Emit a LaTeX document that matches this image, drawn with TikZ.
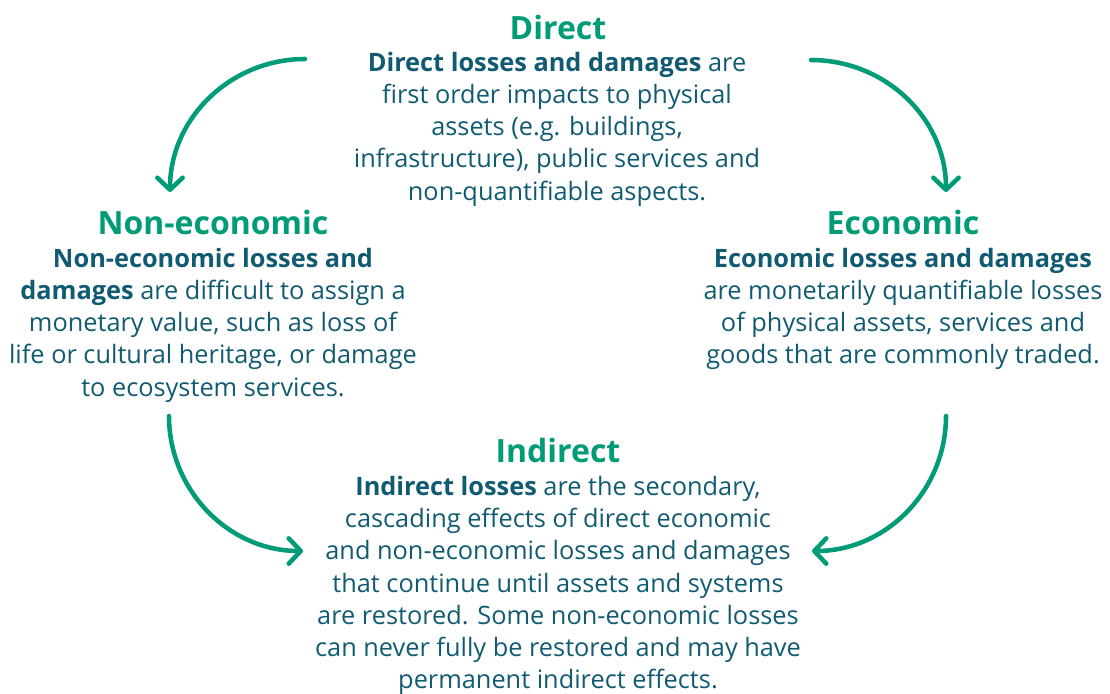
\documentclass[tikz,border=0pt]{standalone}
\usepackage{fontspec}
\setmainfont{Open Sans}
\usetikzlibrary{arrows.meta}
\definecolor{lossgreen}{HTML}{009B77}
\definecolor{lossteal}{HTML}{105B72}
\tikzset{
    heading/.style={text=lossgreen, font=\fontsize{24}{28}\selectfont\bfseries, inner sep=0pt},
    blurb/.style={text=lossteal, font=\fontsize{19}{24.2}\selectfont, align=center, inner sep=0pt},
    flow/.style={draw=lossgreen, line width=3.4pt, line cap=round,
        -{Straight Barb[length=9pt,width=19pt,round]}},
}

\begin{document}
\begin{tikzpicture}[x=0.75pt, y=-0.75pt]
	\useasboundingbox (0,0) rectangle (1110,693);
	% headings
	\node[heading] (dirT) at (558,27) {Direct};
	\node[heading] (nonT) at (213,222) {Non-economic};
	\node[heading] (ecoT) at (903,222) {Economic};
	\node[heading] (indT) at (558,450) {Indirect};
	% texts
	\node[blurb] (dirB) at (557,129) {\textbf{Direct losses and damages} are\\first order impacts to physical\\assets (e.g. buildings,\\infrastructure), public services and\\non-quantifiable aspects.};
	\node[blurb] (nonB) at (213,325) {\textbf{Non-economic losses and}\\\textbf{damages} are difficult to assign a\\monetary value, such as loss of\\life or cultural heritage, or damage\\to ecosystem services.};
	\node[blurb] (ecoB) at (903,309) {\textbf{Economic losses and damages}\\are monetarily quantifiable losses\\of physical assets, services and\\goods that are commonly traded.};
	\node[blurb] (indB) at (558,585.5) {\textbf{Indirect losses} are the secondary,\\cascading effects of direct economic\\and non-economic losses and damages\\that continue until assets and systems\\are restored. Some non-economic losses\\can never fully be restored and may have\\permanent indirect effects.};
	% arrows
	\coordinate (dn-a) at (305,59);   \coordinate (dn-b) at (170,192);
	\coordinate (de-a) at (811,60);   \coordinate (de-b) at (946,192);
	\coordinate (ni-a) at (169,416);  \coordinate (ni-b) at (303,551);
	\coordinate (ei-a) at (946,416);  \coordinate (ei-b) at (812,551);
	\draw[flow] (dn-a) to[out=180,in=90] (dn-b);
	\draw[flow] (de-a) to[out=0,in=90] (de-b);
	\draw[flow] (ni-a) to[out=270,in=180] (ni-b);
	\draw[flow] (ei-a) to[out=270,in=0] (ei-b);
\end{tikzpicture}
\end{document}
